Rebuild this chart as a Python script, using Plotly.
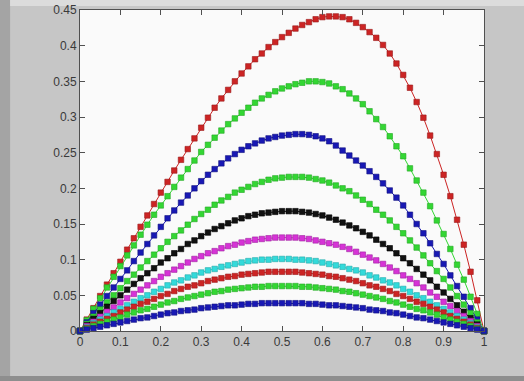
import plotly.graph_objects as go

# ---------------- data ----------------
x = [0, 0.0167, 0.0333, 0.05, 0.0667, 0.0833, 0.1, 0.1167, 0.1333, 0.15,
     0.1667, 0.1833, 0.2, 0.2167, 0.2333, 0.25, 0.2667, 0.2833, 0.3, 0.3167,
     0.3333, 0.35, 0.3667, 0.3833, 0.4, 0.4167, 0.4333, 0.45, 0.4667, 0.4833,
     0.5, 0.5167, 0.5333, 0.55, 0.5667, 0.5833, 0.6, 0.6167, 0.6333, 0.65,
     0.6667, 0.6833, 0.7, 0.7167, 0.7333, 0.75, 0.7667, 0.7833, 0.8, 0.8167,
     0.8333, 0.85, 0.8667, 0.8833, 0.9, 0.9167, 0.9333, 0.95, 0.9667, 0.9833,
     1.0]

red_1 = [0, 0.016, 0.032, 0.049, 0.065, 0.081, 0.097, 0.114, 0.130, 0.146,
         0.162, 0.178, 0.194, 0.209, 0.225, 0.240, 0.255, 0.270, 0.285, 0.299,
         0.313, 0.326, 0.338, 0.350, 0.361, 0.371, 0.381, 0.389, 0.398, 0.405,
         0.412, 0.418, 0.424, 0.429, 0.433, 0.437, 0.440, 0.441, 0.441, 0.440,
         0.437, 0.432, 0.426, 0.419, 0.411, 0.401, 0.389, 0.375, 0.359, 0.341,
         0.321, 0.299, 0.274, 0.248, 0.219, 0.189, 0.156, 0.121, 0.083, 0.043,
         0]

green_2 = [0, 0.015, 0.031, 0.046, 0.061, 0.076, 0.091, 0.106, 0.120, 0.135,
           0.149, 0.163, 0.176, 0.189, 0.202, 0.215, 0.227, 0.239, 0.251, 0.261,
           0.271, 0.281, 0.290, 0.298, 0.306, 0.313, 0.320, 0.326, 0.331, 0.336,
           0.340, 0.343, 0.346, 0.348, 0.350, 0.350, 0.349, 0.347, 0.343, 0.339,
           0.333, 0.326, 0.318, 0.308, 0.297, 0.286, 0.273, 0.259, 0.245, 0.228,
           0.211, 0.194, 0.175, 0.155, 0.136, 0.115, 0.093, 0.072, 0.048, 0.024,
           0]

blue_3 = [0, 0.012, 0.025, 0.037, 0.049, 0.061, 0.073, 0.085, 0.098, 0.110,
          0.122, 0.134, 0.146, 0.158, 0.169, 0.180, 0.190, 0.200, 0.210, 0.219,
          0.227, 0.235, 0.242, 0.248, 0.254, 0.259, 0.263, 0.267, 0.270, 0.272,
          0.274, 0.275, 0.276, 0.276, 0.275, 0.273, 0.270, 0.266, 0.260, 0.253,
          0.246, 0.239, 0.232, 0.224, 0.216, 0.207, 0.197, 0.187, 0.176, 0.163,
          0.150, 0.137, 0.123, 0.108, 0.094, 0.078, 0.063, 0.048, 0.032, 0.016,
          0]

green_4 = [0, 0.010, 0.020, 0.030, 0.040, 0.050, 0.060, 0.070, 0.079, 0.089,
           0.098, 0.107, 0.116, 0.125, 0.133, 0.141, 0.149, 0.157, 0.164, 0.170,
           0.177, 0.183, 0.188, 0.194, 0.198, 0.202, 0.206, 0.209, 0.212, 0.214,
           0.215, 0.216, 0.216, 0.216, 0.215, 0.213, 0.211, 0.208, 0.204, 0.200,
           0.196, 0.190, 0.184, 0.178, 0.170, 0.163, 0.155, 0.146, 0.137, 0.127,
           0.117, 0.106, 0.095, 0.084, 0.073, 0.061, 0.049, 0.037, 0.025, 0.012,
           0]

black_5 = [0, 0.008, 0.017, 0.025, 0.034, 0.042, 0.050, 0.058, 0.066, 0.074,
           0.081, 0.088, 0.096, 0.102, 0.109, 0.115, 0.122, 0.127, 0.133, 0.138,
           0.143, 0.147, 0.151, 0.155, 0.158, 0.161, 0.163, 0.165, 0.166, 0.167,
           0.168, 0.168, 0.168, 0.167, 0.166, 0.164, 0.162, 0.159, 0.156, 0.152,
           0.148, 0.144, 0.139, 0.134, 0.128, 0.122, 0.116, 0.109, 0.102, 0.095,
           0.087, 0.079, 0.071, 0.062, 0.054, 0.045, 0.036, 0.027, 0.018, 0.009,
           0]

magenta_6 = [0, 0.007, 0.013, 0.020, 0.027, 0.033, 0.040, 0.046, 0.052, 0.058,
             0.064, 0.070, 0.076, 0.081, 0.086, 0.091, 0.096, 0.101, 0.105, 0.109,
             0.112, 0.116, 0.119, 0.121, 0.124, 0.126, 0.128, 0.129, 0.130, 0.131,
             0.131, 0.131, 0.131, 0.130, 0.129, 0.127, 0.125, 0.123, 0.121, 0.118,
             0.115, 0.111, 0.107, 0.103, 0.099, 0.094, 0.089, 0.084, 0.078, 0.073,
             0.067, 0.061, 0.054, 0.048, 0.041, 0.035, 0.028, 0.021, 0.014, 0.007,
             0]

cyan_7 = [0, 0.005, 0.011, 0.016, 0.021, 0.026, 0.031, 0.036, 0.041, 0.046,
          0.050, 0.055, 0.059, 0.064, 0.068, 0.071, 0.075, 0.078, 0.082, 0.085,
          0.087, 0.090, 0.092, 0.094, 0.096, 0.098, 0.099, 0.100, 0.100, 0.101,
          0.101, 0.101, 0.100, 0.100, 0.099, 0.098, 0.096, 0.094, 0.092, 0.090,
          0.087, 0.085, 0.082, 0.078, 0.075, 0.071, 0.068, 0.064, 0.059, 0.055,
          0.050, 0.046, 0.041, 0.036, 0.031, 0.026, 0.021, 0.016, 0.011, 0.005,
          0]

red_8 = [0, 0.004, 0.009, 0.013, 0.017, 0.021, 0.026, 0.030, 0.034, 0.038,
         0.041, 0.045, 0.049, 0.052, 0.056, 0.059, 0.062, 0.064, 0.067, 0.070,
         0.072, 0.074, 0.076, 0.077, 0.079, 0.080, 0.081, 0.082, 0.083, 0.083,
         0.083, 0.083, 0.083, 0.082, 0.081, 0.080, 0.079, 0.077, 0.076, 0.074,
         0.072, 0.070, 0.067, 0.064, 0.062, 0.059, 0.056, 0.052, 0.049, 0.045,
         0.041, 0.038, 0.034, 0.030, 0.026, 0.021, 0.017, 0.013, 0.009, 0.004,
         0]

green_9 = [0, 0.003, 0.007, 0.010, 0.013, 0.016, 0.019, 0.023, 0.026, 0.029,
           0.031, 0.034, 0.037, 0.040, 0.042, 0.045, 0.047, 0.049, 0.051, 0.053,
           0.055, 0.056, 0.058, 0.059, 0.060, 0.061, 0.062, 0.062, 0.063, 0.063,
           0.063, 0.063, 0.063, 0.062, 0.062, 0.061, 0.060, 0.059, 0.058, 0.056,
           0.055, 0.053, 0.051, 0.049, 0.047, 0.045, 0.042, 0.040, 0.037, 0.034,
           0.031, 0.029, 0.026, 0.023, 0.019, 0.016, 0.013, 0.010, 0.007, 0.003,
           0]

blue_10 = [0, 0.002, 0.004, 0.006, 0.008, 0.010, 0.012, 0.014, 0.016, 0.018,
           0.019, 0.021, 0.023, 0.025, 0.026, 0.028, 0.029, 0.030, 0.032, 0.033,
           0.034, 0.035, 0.036, 0.036, 0.037, 0.038, 0.038, 0.039, 0.039, 0.039,
           0.039, 0.039, 0.039, 0.039, 0.038, 0.038, 0.037, 0.036, 0.036, 0.035,
           0.034, 0.033, 0.032, 0.030, 0.029, 0.028, 0.026, 0.025, 0.023, 0.021,
           0.019, 0.018, 0.016, 0.014, 0.012, 0.010, 0.008, 0.006, 0.004, 0.002,
           0]

x_tick_values = [0, 0.1, 0.2, 0.3, 0.4, 0.5, 0.6, 0.7, 0.8, 0.9, 1]
x_tick_labels = ["0", "0.1", "0.2", "0.3", "0.4", "0.5", "0.6", "0.7", "0.8", "0.9", "1"]
y_tick_values = [0, 0.05, 0.1, 0.15, 0.2, 0.25, 0.3, 0.35, 0.4, 0.45]
y_tick_labels = ["0", "0.05", "0.1", "0.15", "0.2", "0.25", "0.3", "0.35", "0.4", "0.45"]

# ---------------- styles ----------------
RED, GREEN, BLUE = "#cc2424", "#33d633", "#1818b4"
BLACK, MAGENTA, CYAN = "#111111", "#d633d6", "#33dada"
EDGE = {RED: "#9a1a1a", GREEN: "#22a822", BLUE: "#101080",
        BLACK: "#000000", MAGENTA: "#a022a0", CYAN: "#22aaaa"}

series = [
    (red_1, RED), (green_2, GREEN), (blue_3, BLUE), (green_4, GREEN),
    (black_5, BLACK), (magenta_6, MAGENTA), (cyan_7, CYAN), (red_8, RED),
    (green_9, GREEN), (blue_10, BLUE),
]

fig = go.Figure()
for values, color in series:
    fig.add_trace(go.Scatter(
        x=x, y=values, mode="lines+markers",
        line=dict(color=color, width=1),
        marker=dict(symbol="square", size=5.5, color=color,
                    line=dict(width=0.6, color=EDGE[color])),
        cliponaxis=False, showlegend=False, hoverinfo="skip",
    ))

axis_common = dict(
    ticks="inside", ticklen=5, tickwidth=1, tickcolor="#505050",
    showline=True, linecolor="#505050", linewidth=1, mirror="ticks",
    showgrid=False, zeroline=False, automargin=False,
    tickfont=dict(family="Liberation Sans, Arial, sans-serif", size=12, color="#3a3a3a"),
)

fig.update_layout(
    width=524, height=381,
    margin=dict(l=80, r=40, t=10, b=50),
    paper_bgcolor="#c6c6c6", plot_bgcolor="#fafafa",
    xaxis=dict(range=[0, 1], tickvals=x_tick_values, ticktext=x_tick_labels, **axis_common),
    yaxis=dict(range=[0, 0.45], tickvals=y_tick_values, ticktext=y_tick_labels, **axis_common),
    shapes=[
        # darker window frame at the left and bottom, light strip at top
        dict(type="rect", xref="paper", yref="paper", x0=-0.2, x1=-0.173, y0=-0.2, y1=1.05,
             fillcolor="#a4a4a4", line=dict(width=0), layer="below"),
        dict(type="rect", xref="paper", yref="paper", x0=-0.2, x1=1.2, y0=-0.2, y1=-0.140,
             fillcolor="#8e8e8e", line=dict(width=0), layer="below"),
        dict(type="rect", xref="paper", yref="paper", x0=-0.173, x1=1.2, y0=1.0125, y1=1.05,
             fillcolor="#dcdcdc", line=dict(width=0), layer="below"),
    ],
)

# remove the browser's default 8px page margin so the figure fills the window
fig.write_html(
    "out.html",
    config={"displayModeBar": False},
    post_script="document.body.style.margin='0';document.body.style.background='#c6c6c6';",
)
